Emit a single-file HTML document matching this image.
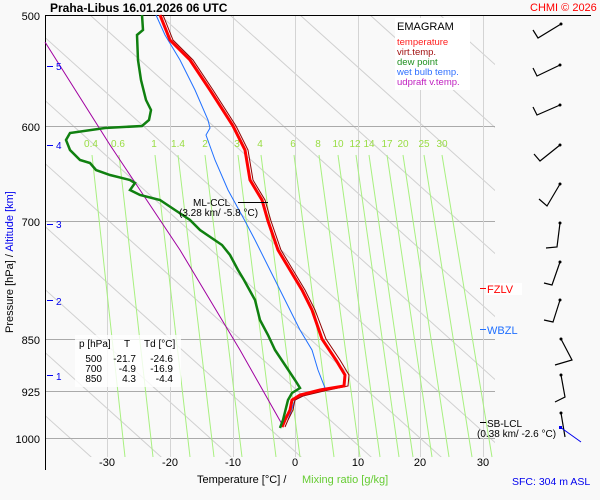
<!DOCTYPE html>
<html><head><meta charset="utf-8"><style>
body{margin:0;background:#f9f9f9;}
svg{display:block;font-family:"Liberation Sans",sans-serif;}
</style></head><body>
<svg width="600" height="500" viewBox="0 0 600 500" xmlns="http://www.w3.org/2000/svg">
<defs><clipPath id="c"><rect x="45" y="15" width="450" height="442"/></clipPath></defs>
<rect width="600" height="500" fill="#f9f9f9"/>
<!-- dry adiabats -->
<g stroke="#d0d0d0" stroke-width="1" fill="none" clip-path="url(#c)">
<line x1="-400" y1="15" x2="100" y2="465"/>
<line x1="-330" y1="15" x2="170" y2="465"/>
<line x1="-260" y1="15" x2="240" y2="465"/>
<line x1="-190" y1="15" x2="310" y2="465"/>
<line x1="-120" y1="15" x2="380" y2="465"/>
<line x1="-50" y1="15" x2="450" y2="465"/>
<line x1="20" y1="15" x2="520" y2="465"/>
<line x1="90" y1="15" x2="590" y2="465"/>
<line x1="160" y1="15" x2="660" y2="465"/>
<line x1="230" y1="15" x2="730" y2="465"/>
<line x1="300" y1="15" x2="800" y2="465"/>
<line x1="370" y1="15" x2="870" y2="465"/>
<line x1="440" y1="15" x2="940" y2="465"/>
</g>
<!-- grid -->
<g stroke="#aaa" stroke-width="1">
<line x1="45" y1="126.5" x2="495" y2="126.5"/>
<line x1="45" y1="221.5" x2="495" y2="221.5"/>
<line x1="45" y1="339.5" x2="495" y2="339.5"/>
<line x1="45" y1="391.5" x2="495" y2="391.5"/>
<line x1="45" y1="438.5" x2="495" y2="438.5"/>
</g>
<g stroke="#d4d4d4" stroke-width="1">
<line x1="107.5" y1="15" x2="107.5" y2="457"/>
<line x1="170.5" y1="15" x2="170.5" y2="457"/>
<line x1="233.5" y1="15" x2="233.5" y2="457"/>
<line x1="295.5" y1="15" x2="295.5" y2="457"/>
<line x1="358.5" y1="15" x2="358.5" y2="457"/>
<line x1="420.5" y1="15" x2="420.5" y2="457"/>
<line x1="483.5" y1="15" x2="483.5" y2="457"/>
</g>
<!-- mixing ratio lines -->
<g stroke="#a8f080" stroke-width="1">
<line x1="92" y1="155" x2="125" y2="457"/>
<line x1="119" y1="155" x2="153" y2="457"/>
<line x1="155" y1="155" x2="190" y2="457"/>
<line x1="178" y1="155" x2="214" y2="457"/>
<line x1="205" y1="155" x2="242" y2="457"/>
<line x1="238" y1="155" x2="276" y2="457"/>
<line x1="261" y1="155" x2="300" y2="457"/>
<line x1="294" y1="155" x2="334" y2="457"/>
<line x1="319" y1="155" x2="360" y2="457"/>
<line x1="338" y1="155" x2="380" y2="457"/>
<line x1="356" y1="155" x2="399" y2="457"/>
<line x1="369" y1="155" x2="413" y2="457"/>
<line x1="387" y1="155" x2="432" y2="457"/>
<line x1="403" y1="155" x2="449" y2="457"/>
<line x1="424" y1="155" x2="472" y2="457"/>
<line x1="442" y1="155" x2="492" y2="457"/>
</g>
<g fill="#99dd44" font-size="10" text-anchor="middle">
<text x="91" y="147">0.4</text><text x="118" y="147">0.6</text><text x="154" y="147">1</text>
<text x="178" y="147">1.4</text><text x="205" y="147">2</text><text x="237" y="147">3</text>
<text x="260" y="147">4</text><text x="293" y="147">6</text><text x="318" y="147">8</text>
<text x="338" y="147">10</text><text x="355" y="147">12</text><text x="369" y="147">14</text>
<text x="387" y="147">17</text><text x="403" y="147">20</text><text x="424" y="147">25</text><text x="442" y="147">30</text>
</g>
<!-- axes -->
<line x1="45.5" y1="15" x2="45.5" y2="470" stroke="#000"/>
<line x1="45" y1="15.5" x2="591" y2="15.5" stroke="#000"/>
<!-- legend -->
<rect x="395" y="18" width="75" height="72" fill="#fff"/>
<text x="397" y="30" font-size="11">EMAGRAM</text>
<g font-size="9.5">
<text x="397" y="45" fill="#ff2020">temperature</text>
<text x="397" y="55" fill="#a01010">virt.temp.</text>
<text x="397" y="65" fill="#209020">dew point</text>
<text x="397" y="75" fill="#3070ff">wet bulb temp.</text>
<text x="397" y="85" fill="#c020c0">udpraft v.temp.</text>
</g>
<!-- purple -->
<polyline points="45,42 110,145 180,250 240,350 283,426" fill="none" stroke="#a000a0" stroke-width="1"/>
<!-- wet bulb -->
<polyline points="156,15 165,35 180,60 195,90 208,120 210,128 206,135 215,160 228,190 245,221 255,240 270,270 285,300 300,330 312,350 318,370 325,388 310,392 295,400 288,420" fill="none" stroke="#2070ff" stroke-width="1"/>
<!-- virt temp -->
<polyline points="163,15 173,40 193,60 213,90 236,126 248,150 253,180 265,200 271,221 281,250 293,270 305,290 315,310 326,339 340,360 349,375 348,386 324,391 303,396 295,400 293,410 288,420 285,427" fill="none" stroke="#900000" stroke-width="1"/>
<!-- temperature -->
<polyline points="160,15 170,40 190,60 210,90 233,126 245,150 250,180 262,200 268,221 278,250 290,270 302,290 312,310 322,339 336,360 345,375 344,386 320,390 300,395 292,400 290,410 285,420 282,427" fill="none" stroke="#ff0000" stroke-width="3"/>
<!-- dew point -->
<polyline points="142,15 143,30 137,35 138,60 141,80 146,100 151,110 149,120 142,126 105,128 70,133 66,140 70,150 80,160 90,163 96,170 110,175 130,180 135,183 130,190 140,195 160,200 175,210 190,220 200,230 222,245 230,255 238,270 244,280 255,300 260,320 268,335 275,350 285,365 295,380 300,388 292,393 288,400 285,412 283,420 280,428" fill="none" stroke="#108010" stroke-width="2.5"/>
<!-- CCL -->
<line x1="238" y1="202.5" x2="268" y2="202.5" stroke="#000"/>
<text x="193" y="206" font-size="10">ML-CCL</text>
<text x="179" y="216" font-size="10">(3.28 km/ -5.8 °C)</text>
<!-- table -->
<rect x="75" y="335" width="106" height="52" fill="#fff" opacity="0.8"/>
<g font-size="10">
<text x="79" y="347">p [hPa]</text><text x="124" y="347">T</text><text x="144" y="347">Td [°C]</text>
<g text-anchor="end">
<text x="102" y="362">500</text><text x="136" y="362">-21.7</text><text x="173" y="362">-24.6</text>
<text x="102" y="372">700</text><text x="136" y="372">-4.9</text><text x="173" y="372">-16.9</text>
<text x="102" y="382">850</text><text x="136" y="382">4.3</text><text x="173" y="382">-4.4</text>
</g></g>
<!-- y labels -->
<g font-size="11" text-anchor="end">
<text x="40" y="20">500</text><text x="40" y="131">600</text><text x="40" y="226">700</text>
<text x="40" y="344">850</text><text x="40" y="396">925</text><text x="40" y="443">1000</text>
</g>
<g fill="#0000ee" font-size="10" stroke="none">
<text x="56" y="70">5</text><text x="56" y="149">4</text><text x="56" y="228">3</text><text x="56" y="305">2</text><text x="56" y="380">1</text>
</g>
<g stroke="#0000ee"><line x1="47" y1="66.5" x2="53" y2="66.5"/><line x1="47" y1="145.5" x2="53" y2="145.5"/><line x1="47" y1="224.5" x2="53" y2="224.5"/><line x1="47" y1="300.5" x2="53" y2="300.5"/><line x1="47" y1="375.5" x2="53" y2="375.5"/></g>
<text transform="translate(13,333) rotate(-90)" font-size="11">Pressure [hPa]  /  <tspan fill="#0000ee">Altitude [km]</tspan></text>
<!-- x labels -->
<g font-size="11" text-anchor="middle">
<text x="107" y="466">-30</text><text x="170" y="466">-20</text><text x="233" y="466">-10</text>
<text x="295" y="466">0</text><text x="358" y="466">10</text><text x="420" y="466">20</text><text x="483" y="466">30</text>
</g>
<text x="197" y="483" font-size="11">Temperature [°C]  /</text>
<text x="302" y="483" font-size="11" fill="#66cc33">Mixing ratio [g/kg]</text>
<text x="512" y="485" font-size="10.5" fill="#0000ee">SFC: 304 m ASL</text>
<!-- title -->
<text x="50" y="12" font-size="12" font-weight="bold">Praha-Libus    16.01.2026 06 UTC</text>
<text x="530" y="11" font-size="11" fill="#ff0000">CHMI © 2026</text>
<!-- right labels -->
<line x1="480" y1="288.5" x2="486" y2="288.5" stroke="#ff0000"/>
<rect x="486" y="283" width="36" height="12" fill="#fff"/>
<text x="487" y="293" font-size="11" fill="#ff0000">FZLV</text>
<line x1="480" y1="329.5" x2="486" y2="329.5" stroke="#2070ff"/>
<text x="487" y="334" font-size="11" fill="#2070ff">WBZL</text>
<line x1="480" y1="422.5" x2="486" y2="422.5" stroke="#000"/>
<text x="487" y="427" font-size="10">SB-LCL</text>
<text x="477" y="437" font-size="10">(0.38 km/ -2.6 °C)</text>
<!-- wind barbs -->
<g stroke="#000" stroke-width="1.2" fill="none">
<polyline points="561,24 538,38 533,30"/>
<polyline points="560,65 537,76 533,68"/>
<polyline points="560,105 537,115 533,107"/>
<polyline points="560,145 540,161 534,154"/>
<polyline points="560,184 547,206 539,199"/>
<polyline points="560,223 557,247 546,248"/>
<polyline points="560,262 552,285 544,283"/>
<polyline points="560,300 553,322 544,320"/>
<polyline points="561,339 572,360 555,365"/>
<polyline points="561,375 565,397 555,402"/>
<polyline points="561,413 565,437"/>
</g>
<g fill="#000"><circle cx="561" cy="24" r="1.5"/><circle cx="560" cy="65" r="1.5"/><circle cx="560" cy="105" r="1.5"/><circle cx="560" cy="145" r="1.5"/><circle cx="560" cy="184" r="1.5"/><circle cx="560" cy="223" r="1.5"/><circle cx="560" cy="262" r="1.5"/><circle cx="560" cy="300" r="1.5"/><circle cx="561" cy="339" r="1.5"/><circle cx="561" cy="375" r="1.5"/><circle cx="561" cy="413" r="1.5"/></g>
<line x1="560" y1="427" x2="581" y2="442" stroke="#0000ee"/>
<rect x="559" y="426" width="3" height="3" fill="#0000ee"/>
</svg>
</body></html>
